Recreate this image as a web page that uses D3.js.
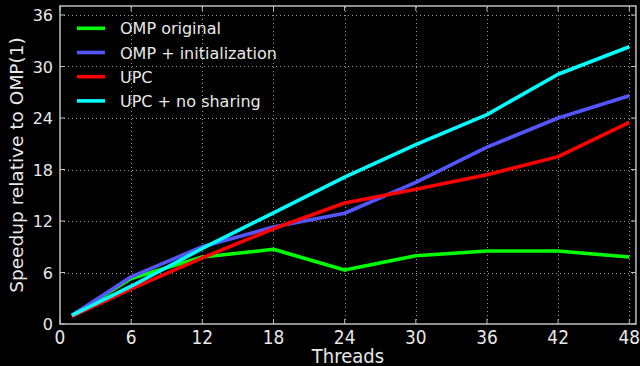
<!DOCTYPE html>
<html>
<head>
<meta charset="utf-8">
<script src="https://cdn.jsdelivr.net/npm/d3@7"></script>
<style>
  html, body { margin: 0; padding: 0; background: #000; }
  svg { display: block; font-family: "DejaVu Sans", sans-serif; }
</style>
</head>
<body>
<svg id="chart"></svg>
<script>
// thread counts measured
var threads = [1, 6, 12, 18, 24, 30, 36, 42, 48];

// speedups
var ompOriginal = [1.0, 5.3, 7.8, 8.7, 6.3, 7.95, 8.5, 8.5, 7.8];
var ompInit     = [1.0, 5.5, 9.0, 11.3, 12.9, 16.5, 20.6, 24.0, 26.6];
var upc         = [0.9, 4.1, 7.7, 11.1, 14.1, 15.7, 17.4, 19.5, 23.5];
var upcNoShare  = [1.0, 4.4, 8.8, 12.95, 17.1, 20.9, 24.4, 29.1, 32.3];

var seriesNames  = ['OMP original', 'OMP + initialization', 'UPC', 'UPC + no sharing'];
var seriesColors = ['#00ff00', '#5555ff', '#ff0000', '#00ffff'];
var xTicks = [0, 6, 12, 18, 24, 30, 36, 42, 48];
var yTicks = [0, 6, 12, 18, 24, 30, 36];

var W = 640, H = 366;
var svg = d3.select('#chart').attr('width', W).attr('height', H);

// plot box
var left = 60, bottom = 324;
var x = d3.scaleLinear().domain([0, 48]).range([left, 629.3]);
var y = d3.scaleLinear().domain([0, 36]).range([bottom, 15]);
var xMax = 48.56, yMax = 37.05;   // frame reaches a bit past last ticks

var txt = '#e8e8e8', frame = '#bfbfbf';

// dotted grid
var grid = svg.append('g').attr('class', 'grid')
    .attr('stroke', '#9a9a9a').attr('stroke-width', 1).attr('stroke-dasharray', '1,3');
grid.selectAll('line.gx').data(xTicks.slice(1)).enter().append('line')
    .attr('class', 'gx')
    .attr('x1', function(d) { return Math.round(x(d)) + 0.5; })
    .attr('x2', function(d) { return Math.round(x(d)) + 0.5; })
    .attr('y1', y(0)).attr('y2', y(yMax));
grid.selectAll('line.gy').data(yTicks.slice(1)).enter().append('line')
    .attr('class', 'gy')
    .attr('y1', function(d) { return Math.round(y(d)) + 0.5; })
    .attr('y2', function(d) { return Math.round(y(d)) + 0.5; })
    .attr('x1', x(0)).attr('x2', x(xMax));

// series lines
var allSeries = [ompOriginal, ompInit, upc, upcNoShare];
var line = d3.line()
    .x(function(d, i) { return x(threads[i]); })
    .y(function(d) { return y(d); });

svg.append('g').attr('class', 'lines')
    .selectAll('path').data(allSeries).enter().append('path')
    .attr('d', line)
    .attr('fill', 'none')
    .attr('stroke', function(d, i) { return seriesColors[i]; })
    .attr('stroke-width', 3.6)
    .attr('stroke-linejoin', 'round');

// frame
svg.append('rect')
    .attr('x', x(0)).attr('y', y(yMax))
    .attr('width', x(xMax) - x(0)).attr('height', y(0) - y(yMax))
    .attr('fill', 'none').attr('stroke', frame).attr('stroke-width', 1.5);

// inward ticks on all four sides
var ticks = svg.append('g').attr('stroke', frame).attr('stroke-width', 1);
xTicks.forEach(function(t) {
  ticks.append('line').attr('x1', x(t)).attr('x2', x(t)).attr('y1', y(0)).attr('y2', y(0) - 5);
  ticks.append('line').attr('x1', x(t)).attr('x2', x(t)).attr('y1', y(yMax)).attr('y2', y(yMax) + 5);
});
yTicks.forEach(function(t) {
  ticks.append('line').attr('y1', y(t)).attr('y2', y(t)).attr('x1', x(0)).attr('x2', x(0) + 5);
  ticks.append('line').attr('y1', y(t)).attr('y2', y(t)).attr('x1', x(xMax)).attr('x2', x(xMax) - 5);
});

// tick labels (x labels are drawn a little taller, as in the original)
svg.append('g').selectAll('text').data(xTicks).enter().append('text')
    .attr('transform', function(d) { return 'translate(' + x(d) + ',344) scale(1,1.12)'; })
    .attr('text-anchor', 'middle')
    .attr('fill', txt).attr('font-size', 17)
    .text(function(d) { return d; });
svg.append('g').selectAll('text').data(yTicks).enter().append('text')
    .attr('x', 53)
    .attr('y', function(d) { return y(d) + 6; })
    .attr('text-anchor', 'end')
    .attr('fill', txt).attr('font-size', 16)
    .text(function(d) { return d; });

// axis titles
svg.append('text')
    .attr('transform', 'translate(' + ((x(0) + x(xMax)) / 2) + ',362.5) scale(1,1.06)')
    .attr('text-anchor', 'middle')
    .attr('fill', txt).attr('font-size', 18)
    .text('Threads');
svg.append('text')
    .attr('transform', 'translate(23,165) rotate(-90) scale(1.09,1)')
    .attr('text-anchor', 'middle')
    .attr('fill', txt).attr('font-size', 17)
    .text('Speedup relative to OMP(1)');

// legend
var legend = svg.append('g').attr('class', 'legend');
var items = legend.selectAll('g').data(seriesNames).enter().append('g')
    .attr('transform', function(d, i) { return 'translate(0,' + (28.3 + i * 24.2) + ')'; });
items.append('line')
    .attr('x1', 77).attr('x2', 105).attr('y1', 0).attr('y2', 0)
    .attr('stroke', function(d, i) { return seriesColors[i]; })
    .attr('stroke-width', 3.6);
items.append('text')
    .attr('x', 120).attr('y', 6)
    .attr('fill', txt).attr('font-size', 16)
    .text(function(d) { return d; });
</script>
</body>
</html>
